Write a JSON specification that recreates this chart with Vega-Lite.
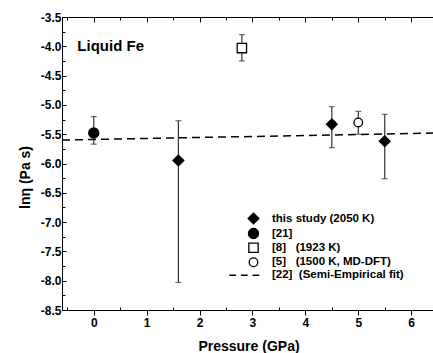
{
  "$schema": "https://vega.github.io/schema/vega-lite/v6.json",
  "autosize": {"type": "none"},
  "padding": {"left": 62, "top": 17, "right": 0, "bottom": 43},
  "width": 373,
  "height": 293,
  "background": "white",
  "config": {
    "view": {"stroke": "black", "strokeWidth": 1},
    "font": "Liberation Sans",
    "axis": {"domainColor": "black", "tickColor": "black", "labelColor": "black", "titleColor": "black", "labelFont": "Liberation Sans", "titleFont": "Liberation Sans", "labelFontWeight": "bold", "titleFontWeight": "bold", "grid": false},
    "legend": {"labelFont": "Liberation Sans", "labelFontWeight": "bold", "labelFontSize": 11.5, "labelColor": "black", "symbolStrokeWidth": 1.3, "labelOffset": 12, "rowPadding": -1.5, "labelLimit": 300}
  },
  "datasets": {
    "points": [
      {"pressure": 1.6, "lneta": -5.95, "lo": -8.03, "hi": -5.27, "series": "this study (2050 K)"},
      {"pressure": 4.5, "lneta": -5.33, "lo": -5.73, "hi": -5.03, "series": "this study (2050 K)"},
      {"pressure": 5.5, "lneta": -5.62, "lo": -6.26, "hi": -5.16, "series": "this study (2050 K)"},
      {"pressure": 0.0, "lneta": -5.48, "lo": -5.67, "hi": -5.2, "series": "[21]"},
      {"pressure": 2.8, "lneta": -4.03, "lo": -4.25, "hi": -3.8, "series": "[8]\u00a0\u00a0 (1923 K)"},
      {"pressure": 5.0, "lneta": -5.3, "lo": -5.5, "hi": -5.11, "series": "[5]\u00a0\u00a0 (1500 K, MD-DFT)"}
    ],
    "fit": [
      {"pressure": -0.6, "lneta": -5.6},
      {"pressure": 6.45, "lneta": -5.48}
    ],
    "label": [
      {"pressure": -0.31, "lneta": -4.0, "text": "Liquid Fe"}
    ]
  },
  "resolve": {"axis": {"x": "independent", "y": "independent"}},
  "layer": [
    {
      "data": {"name": "fit"},
      "mark": {"type": "line", "color": "black", "strokeWidth": 1.5, "strokeDash": [8, 5]},
      "encoding": {
        "x": {"field": "pressure", "type": "quantitative", "scale": {"domain": [-0.6, 6.45], "nice": false, "zero": false},
          "axis": {"orient": "bottom", "title": "Pressure (GPa)", "titleFontSize": 14, "titlePadding": 11,
            "values": [-0.5, 0, 0.5, 1, 1.5, 2, 2.5, 3, 3.5, 4, 4.5, 5, 5.5, 6],
            "labelExpr": "datum.value % 1 === 0 ? format(datum.value, 'd') : ''",
            "labelFontSize": 12, "labelPadding": 2,
            "tickSize": {"condition": {"test": "datum.value % 1 === 0", "value": 5}, "value": -3}}},
        "y": {"field": "lneta", "type": "quantitative", "scale": {"domain": [-8.5, -3.5], "nice": false, "zero": false},
          "axis": {"orient": "left", "title": "lnη (Pa s)", "titleFontSize": 14, "titlePadding": 8, "titleY": 160,
            "values": [-8.5, -8.25, -8, -7.75, -7.5, -7.25, -7, -6.75, -6.5, -6.25, -6, -5.75, -5.5, -5.25, -5, -4.75, -4.5, -4.25, -4, -3.75, -3.5],
            "labelExpr": "abs(datum.value * 2 - round(datum.value * 2)) < 0.01 ? replace(format(datum.value, '.1f'), '−', '-') : ''",
            "labelFontSize": 12, "labelPadding": 5,
            "tickSize": {"condition": {"test": "abs(datum.value * 2 - round(datum.value * 2)) < 0.01", "value": -4}, "value": -3}}}
      }
    },
    {
      "data": {"name": "points"},
      "mark": {"type": "errorbar", "ticks": {"size": 6}, "color": "#333", "thickness": 1.2},
      "encoding": {
        "x": {"field": "pressure", "type": "quantitative", "axis": null},
        "y": {"field": "lo", "type": "quantitative", "axis": null},
        "y2": {"field": "hi"}
      }
    },
    {
      "data": {"name": "points"},
      "mark": {"type": "point", "opacity": 1, "strokeWidth": 1.3},
      "encoding": {
        "x": {"field": "pressure", "type": "quantitative",
          "axis": {"orient": "top", "labels": false, "title": null, "values": [-0.5, 0, 0.5, 1, 1.5, 2, 2.5, 3, 3.5, 4, 4.5, 5, 5.5, 6],
            "tickSize": {"condition": {"test": "datum.value % 1 === 0", "value": -5}, "value": -3}}},
        "y": {"field": "lneta", "type": "quantitative", "axis": null},
        "shape": {"field": "series", "type": "nominal",
          "scale": {"domain": ["this study (2050 K)", "[21]", "[8]\u00a0\u00a0 (1923 K)", "[5]\u00a0\u00a0 (1500 K, MD-DFT)", "[22]\u00a0 (Semi-Empirical fit)"],
            "range": ["diamond", "circle", "square", "circle", "M-6.25,0H-4.5M-3.25,0H-1.5M-0.25,0H1.5"]},
          "legend": {"title": null, "orient": "none", "legendX": 185, "legendY": 195}},
        "fill": {"field": "series", "type": "nominal",
          "scale": {"domain": ["this study (2050 K)", "[21]", "[8]\u00a0\u00a0 (1923 K)", "[5]\u00a0\u00a0 (1500 K, MD-DFT)", "[22]\u00a0 (Semi-Empirical fit)"],
            "range": ["black", "black", "white", "white", "transparent"]},
          "legend": {"title": null, "orient": "none", "legendX": 185, "legendY": 195}},
        "stroke": {"field": "series", "type": "nominal",
          "scale": {"domain": ["this study (2050 K)", "[21]", "[8]\u00a0\u00a0 (1923 K)", "[5]\u00a0\u00a0 (1500 K, MD-DFT)", "[22]\u00a0 (Semi-Empirical fit)"],
            "range": ["black", "black", "black", "black", "black"]},
          "legend": {"title": null, "orient": "none", "legendX": 185, "legendY": 195}},
        "size": {"field": "series", "type": "nominal",
          "scale": {"domain": ["this study (2050 K)", "[21]", "[8]\u00a0\u00a0 (1923 K)", "[5]\u00a0\u00a0 (1500 K, MD-DFT)", "[22]\u00a0 (Semi-Empirical fit)"],
            "range": [115, 60, 64, 50, 64]},
          "legend": {"title": null, "orient": "none", "legendX": 185, "legendY": 195}}
      }
    },
    {
      "data": {"name": "label"},
      "mark": {"type": "text", "align": "left", "baseline": "middle", "fontWeight": "bold", "fontSize": 15, "font": "Liberation Sans", "color": "black"},
      "encoding": {
        "x": {"field": "pressure", "type": "quantitative", "axis": null},
        "y": {"field": "lneta", "type": "quantitative", "axis": null},
        "text": {"field": "text"}
      }
    }
  ]
}
